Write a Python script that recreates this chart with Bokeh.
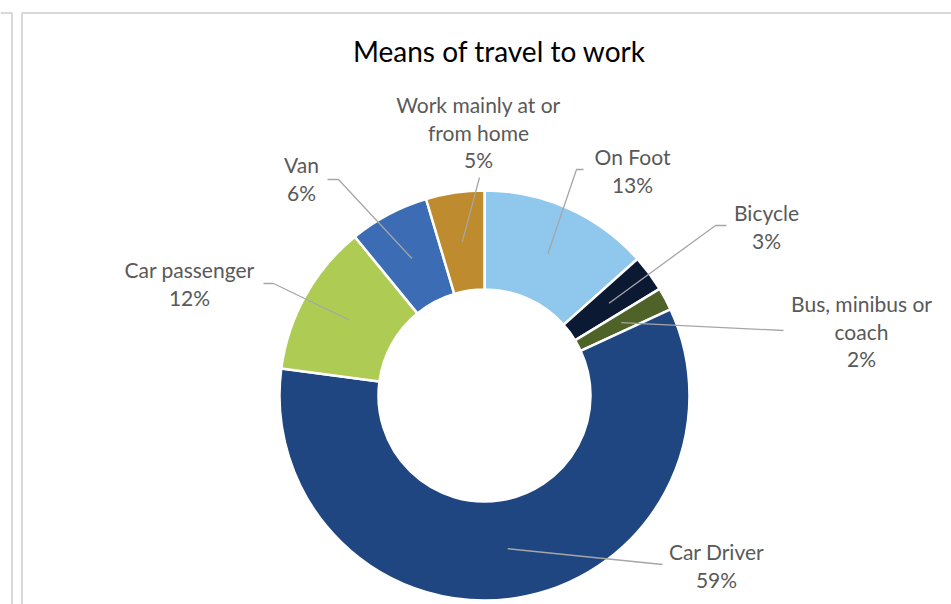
import math
from bokeh.plotting import figure
from bokeh.models import Range1d
from bokeh.core.properties import value
from bokeh.embed import file_html
from bokeh.resources import INLINE

# ---- data ----
categories = ["On Foot", "Bicycle", "Bus, minibus or\ncoach", "Car Driver",
              "Car passenger", "Van", "Work mainly at or\nfrom home"]
shares = [13.4, 2.9, 1.8, 59.0, 12.0, 6.3, 4.6]
colors = ["#8FC8EC", "#0B1A32", "#4F6228", "#1F4681", "#AECB54", "#3C6DB4", "#BE8B2F"]

# ---- layout (page pixels) ----
label_x = [632, 766, 861, 716, 189, 301, 478]
label_top = [156, 212, 303, 551, 269, 164, 104]
leader_elbow = [(576, 169), (715, 225), (783, 330), (662, 564), (273, 283), (338, 179), (479, 177)]
leader_end = [(583, 169), (726, 225), (783, 330), (662, 564), (263, 283), (327, 179), (479, 177)]
CX, CY = 484, 395
R_OUT, R_IN = 205, 106
R_LEAD = 155
LINE_GAP = 27.5

W, H = 951, 604


def Y(py):
    return H - py


p = figure(width=W, height=H, x_range=Range1d(0, W), y_range=Range1d(0, H),
           output_backend="svg", toolbar_location=None, min_border=0,
           x_axis_type=None, y_axis_type=None)
p.outline_line_color = None
p.grid.visible = False

# frame lines
frame = "#D9D9D9"
p.line([0, 11.5, 11.5], [Y(12.5), Y(12.5), Y(604)], line_color=frame, line_width=2)
p.line([21.5, 21.5, 951], [Y(604), Y(12.5), Y(12.5)], line_color=frame, line_width=2)

# donut
total = sum(shares)
starts, ends, mids = [], [], []
cum = 0.0
for v in shares:
    a0 = cum / total
    cum += v
    a1 = cum / total
    starts.append(math.pi / 2 - 2 * math.pi * a0)
    ends.append(math.pi / 2 - 2 * math.pi * a1)
    mids.append(math.pi / 2 - 2 * math.pi * (a0 + a1) / 2)

p.annular_wedge(x=[CX] * len(shares), y=[Y(CY)] * len(shares), inner_radius=R_IN, outer_radius=R_OUT,
                start_angle=starts, end_angle=ends, direction="clock",
                fill_color=colors, line_color="white", line_width=2.5)

# leader lines
xs, ys = [], []
for i, m in enumerate(mids):
    sx = CX + R_LEAD * math.cos(m)
    sy = Y(CY) + R_LEAD * math.sin(m)
    ex, ey = leader_elbow[i]
    fx, fy = leader_end[i]
    xs.append([sx, ex, fx])
    ys.append([sy, Y(ey), Y(fy)])
p.multi_line(xs, ys, line_color="#A6A6A6", line_width=1.3)

# labels
tx, ty, tt = [], [], []
for i, (name, v) in enumerate(zip(categories, shares)):
    lines = name.split("\n") + [f"{round(v)}%"]
    for j, ln in enumerate(lines):
        tx.append(label_x[i])
        ty.append(Y(label_top[i] + j * LINE_GAP))
        tt.append(ln)
p.text(x=tx, y=ty, text=tt, text_align="center", text_baseline="middle",
       text_font=value("Lato"), text_font_size="21px", text_color="#595959")

# title
p.text(x=[499], y=[Y(50)], text=["Means of travel to work"], text_align="center", text_baseline="middle",
       text_font=value("Lato"), text_font_size="28px", text_color="#000000")

open("out.html", "w").write(file_html(p, INLINE))
